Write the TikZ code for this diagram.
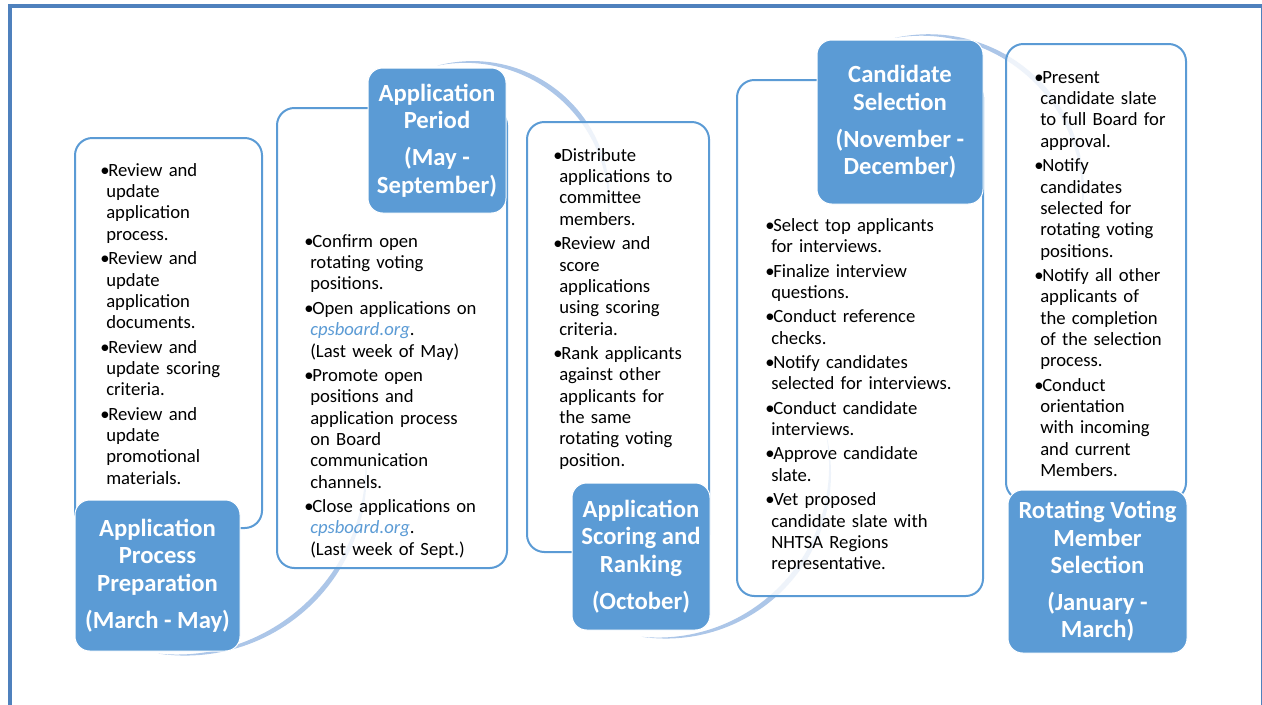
\documentclass[tikz,border=0pt]{standalone}
\usepackage{fontspec}
\setmainfont{Carlito}
\usetikzlibrary{fit}

\definecolor{stageblue}{RGB}{91,155,213}
\definecolor{swooshblue}{RGB}{172,198,232}
\definecolor{frameblue}{RGB}{79,129,189}
\definecolor{linkblue}{RGB}{91,155,213}

\newcommand{\bitem}{\par\leftskip=4.5pt\noindent\hspace*{-4.5pt}\makebox[6pt][l]{\textbullet}\strut}
\newcommand{\site}{\textcolor{linkblue}{\textit{cpsboard.org}}}
% tapered arc: centre x, centre y, radius, start angle, end angle
\newcommand{\swoosh}[5]{%
  \fill[swooshfill]
    plot[domain=0:1, samples=60]
      ({#1+(#3+2.5*sin(180*\x))*cos(#4+\x*(#5-(#4)))},
       {#2+(#3+2.5*sin(180*\x))*sin(#4+\x*(#5-(#4)))})
    -- plot[domain=0:1, samples=60]
      ({#1+(#3-2.5*sin(180*\x))*cos(#5-\x*(#5-(#4)))},
       {#2+(#3-2.5*sin(180*\x))*sin(#5-\x*(#5-(#4)))})
    -- cycle;}

\begin{document}
\begin{tikzpicture}[
		x=0.75pt, y=-0.75pt,
		frame/.style={draw=frameblue, line width=3pt},
		stagebox/.style={draw=stageblue, line width=1.5pt, rounded corners=13pt, fill=white, fill opacity=0.8, inner sep=0pt},
		stagehead/.style={draw=white, line width=0.75pt, fill=stageblue, rounded corners=11pt, inner sep=0pt},
		headtext/.style={inner sep=0pt, text=white, align=center, font=\fontsize{18.5}{20.6}\selectfont\bfseries},
		tasks/.style={anchor=north west, inner sep=0pt, text width=175pt, align=left, font=\fontsize{14}{16}\selectfont\setlength{\parskip}{2.3pt}},
		swooshfill/.style={fill=swooshblue}
		]
		\useasboundingbox (0,0) rectangle (1262,704);
		\draw[frame] (10,6) rectangle (1263,716);

		% Swooshes behind the stages
		\swoosh{181}{470}{185}{-8}{97}
		\swoosh{469}{202}{140}{-103}{10}
		\swoosh{662}{470}{168}{-14}{97}
		\swoosh{925}{193}{158}{-101}{13}

		% Stage boxes
		\node[stagebox, fit={(75,138) (262,528)}] (prepbox) {};
		\node[stagebox, fit={(277,108) (507,568)}] (periodbox) {};
		\node[stagebox, fit={(527,122) (709,552)}] (scorebox) {};
		\node[stagebox, fit={(737,80) (983,596)}] (candbox) {};
		\node[stagebox, fit={(1006,44) (1186,500)}] (memberbox) {};

		% Stage headings
		\node[stagehead, fit={(75,500) (240,651)}] (prephead) {};
		\node[stagehead, fit={(368,68) (506,213)}] (periodhead) {};
		\node[stagehead, fit={(572,483) (710,630)}] (scorehead) {};
		\node[stagehead, fit={(817,40) (983,204)}] (candhead) {};
		\node[stagehead, fit={(1008,490) (1187,653)}] (memberhead) {};
		\node[headtext] (preptitle) at (prephead) {Application\\Process\\Preparation\\[7pt](March - May)};
		\node[headtext] (periodtitle) at (periodhead) {Application\\Period\\[7pt](May -\\September)};
		\node[headtext] (scoretitle) at (scorehead) {Application\\Scoring and\\Ranking\\[7pt](October)};
		\node[headtext] (candtitle) at (candhead) {Candidate\\Selection\\[7pt](November -\\December)};
		\node[headtext] (membertitle) at (memberhead) {Rotating Voting\\Member\\Selection\\[7pt](January -\\March)};

		% Tasks of each stage
		\node[tasks] (preptasks) at (100,151.6) {\bitem Review and\\update\\application\\process.
			\bitem Review and\\update\\application\\documents.
			\bitem Review and\\update scoring\\criteria.
			\bitem Review and\\update\\promotional\\materials.\par};
		\node[tasks] (periodtasks) at (304,222.6) {\bitem Confirm open\\rotating voting\\positions.
			\bitem Open applications on\\\site.\\(Last week of May)
			\bitem Promote open\\positions and\\application process\\on Board\\communication\\channels.
			\bitem Close applications on\\\site.\\(Last week of Sept.)\par};
		\node[tasks] (scoretasks) at (553,136.6) {\bitem Distribute\\applications to\\committee\\members.
			\bitem Review and\\score\\applications\\using scoring\\criteria.
			\bitem Rank applicants\\against other\\applicants for\\the same\\rotating voting\\position.\par};
		\node[tasks] (candtasks) at (765,206.6) {\bitem Select top applicants\\for interviews.
			\bitem Finalize interview\\questions.
			\bitem Conduct reference\\checks.
			\bitem Notify candidates\\selected for interviews.
			\bitem Conduct candidate\\interviews.
			\bitem Approve candidate\\slate.
			\bitem Vet proposed\\candidate slate with\\NHTSA Regions\\representative.\par};
		\node[tasks] (membertasks) at (1034,58.6) {\bitem Present\\candidate slate\\to full Board for\\approval.
			\bitem Notify\\candidates\\selected for\\rotating voting\\positions.
			\bitem Notify all other\\applicants of\\the completion\\of the selection\\process.
			\bitem Conduct\\orientation\\with incoming\\and current\\Members.\par};
	\end{tikzpicture}
\end{document}
